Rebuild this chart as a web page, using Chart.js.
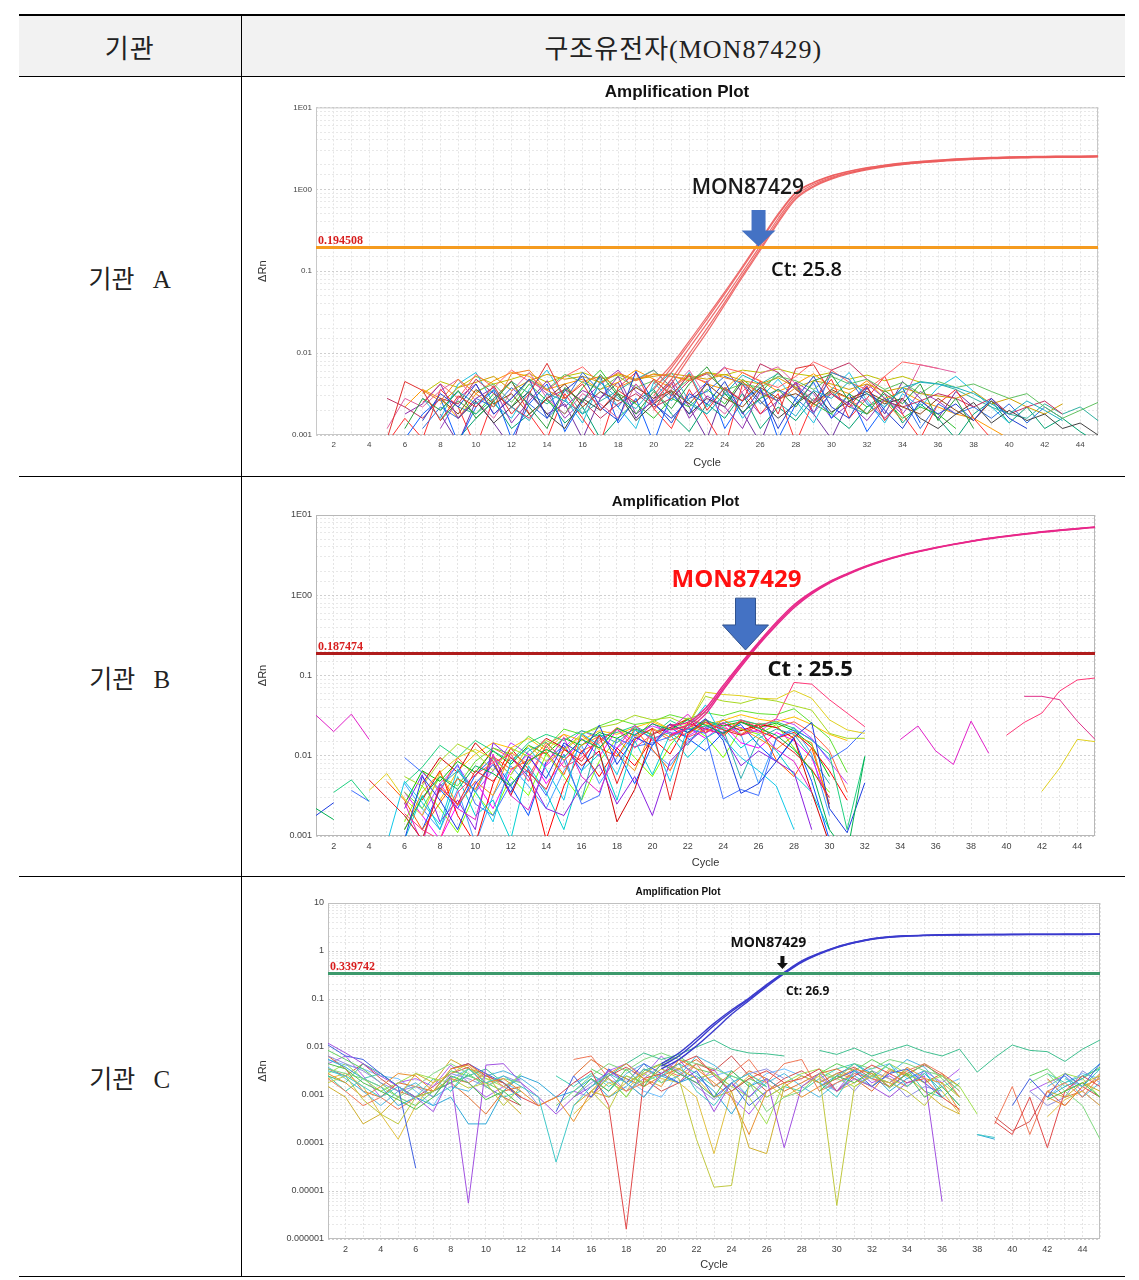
<!DOCTYPE html>
<html>
<head>
<meta charset="utf-8">
<script src="https://cdn.jsdelivr.net/npm/chart.js@4.4.1/dist/chart.umd.min.js"></script>
<style>
  body { margin: 0; background: #fff; }
  .page { position: relative; width: 1139px; height: 1280px; }
  table { position: absolute; left: 19px; top: 14px; width: 1106px; border-collapse: collapse; table-layout: fixed; }
  th, td { padding: 0; border-top: 1px solid #000; border-bottom: 1px solid #000; }
  tr.head th { border-top: 2px solid #000; height: 60px; background: #f2f2f2; font-weight: normal;
    font-family: "Liberation Serif", "Noto Sans CJK KR", serif; font-size: 26px; letter-spacing: 1px; color: #222; }
  th.lab, td.lab { border-right: 1px solid #000; }
  td.lab { text-align: center; font-family: "Liberation Serif", "Noto Sans CJK KR", serif; font-size: 25px; word-spacing: 12px; color: #222; }
  td.fig { height: 399px; }
  .box { position: relative; width: 883px; height: 399px; }
</style>
</head>
<body>
<div class="page">
<table>
  <colgroup><col style="width:222px"><col></colgroup>
  <tr class="head"><th class="lab">기관</th><th>구조유전자(MON87429)</th></tr>
  <tr><td class="lab">기관 A</td><td class="fig"><div class="box"><canvas id="chartA" width="883" height="399"></canvas></div></td></tr>
  <tr><td class="lab">기관 B</td><td class="fig"><div class="box"><canvas id="chartB" width="883" height="399"></canvas></div></td></tr>
  <tr><td class="lab">기관 C</td><td class="fig"><div class="box"><canvas id="chartC" width="883" height="399"></canvas></div></td></tr>
</table>
</div>
<script>
const _ = null;

// ---- shared axes ----
const cycles = [1,2,3,4,5,6,7,8,9,10,11,12,13,14,15,16,17,18,19,20,21,22,23,24,25,26,27,28,29,30,31,32,33,34,35,36,37,38,39,40,41,42,43,44,45];
const xTickValues = [2,4,6,8,10,12,14,16,18,20,22,24,26,28,30,32,34,36,38,40,42,44];

// ---- 기관 A ----
const yTicksA = [10, 1, 0.1, 0.01, 0.001];
const yLabelsA = ['1E01', '1E00', '0.1', '0.01', '0.001'];
const thresholdA = 0.194508;
const ctA = 25.8;

const ampA1 = [_,_,_,_,_, _,_,_,_,_, _,_,_,_,_, _,_,_,_,0.0030, 0.0058,0.0115,0.023,0.047,0.098, 0.205,0.44,0.84,1.15,1.4, 1.6,1.78,1.92,2.04,2.14, 2.22,2.3,2.36,2.4,2.44, 2.46,2.48,2.5,2.51,2.52];
const ampA2 = [_,_,_,_,_, _,_,_,_,_, _,_,_,_,_, _,_,_,_,0.0024, 0.0048,0.0098,0.02,0.042,0.09, 0.19,0.41,0.79,1.1,1.36, 1.58,1.76,1.9,2.02,2.12, 2.2,2.28,2.34,2.38,2.42, 2.44,2.46,2.47,2.48,2.5];
const ampA3 = [_,_,_,_,_, _,_,_,_,_, _,_,_,_,_, _,_,_,_,0.0036, 0.0066,0.013,0.026,0.053,0.11, 0.23,0.48,0.9,1.2,1.45, 1.65,1.82,1.96,2.08,2.18, 2.26,2.33,2.39,2.43,2.47, 2.49,2.51,2.52,2.53,2.55];
const ampA4 = [_,_,_,_,_, _,_,_,_,_, _,_,_,_,_, _,_,_,_,0.0020, 0.0042,0.0088,0.018,0.039,0.085, 0.18,0.39,0.76,1.07,1.33, 1.55,1.73,1.88,2.0,2.1, 2.18,2.26,2.32,2.36,2.4, 2.42,2.44,2.45,2.46,2.48];
const ampA5 = [_,_,_,_,_, _,_,_,_,_, _,_,_,_,_, _,_,_,_,0.0042, 0.0072,0.014,0.028,0.056,0.115, 0.24,0.5,0.92,1.22,1.47, 1.67,1.84,1.98,2.1,2.2, 2.28,2.35,2.41,2.45,2.49, 2.51,2.53,2.54,2.55,2.56];

const noiseA1 = [_,_,_,_,0.0009, 0.0045,0.0035,0.0015,0.003,0.0022, 0.004,0.0018,0.0032,0.0075,0.0028, 0.0042,0.002,0.0035,0.0025,0.0048, 0.003,0.0055,0.002,0.0038,0.0026, 0.0045,0.0018,0.0065,0.0072,0.0032, 0.0022,0.004,0.0015,0.0028,_, _,_,_,_,_, _,_,_,_,_];
const noiseA2 = [_,_,_,_,_, 0.0012,0.0028,0.002,0.0035,0.0016, 0.0026,0.0045,0.0022,0.0012,0.0038, 0.0025,0.0055,0.003,0.0018,0.0034, 0.0021,0.0042,0.0068,0.0032,0.0019, 0.0028,0.0036,0.0022,0.0046,0.0055, 0.0026,0.0018,0.0035,0.0024,0.0042, 0.0015,0.0028,0.0012,_,_, _,_,_,_,_];
const noiseA3 = [_,_,_,_,_, _,0.0015,0.0032,0.0022,0.0042, 0.0018,0.0028,0.0048,0.0016,0.0035, 0.0052,0.0022,0.0015,0.006,0.0025, 0.0014,0.0032,0.0024,0.0045,0.0018, 0.0036,0.0012,0.0028,0.0052,0.0022, 0.0016,0.0038,0.002,0.0012,0.0026, 0.0018,0.0024,0.0015,0.0028,0.0016, 0.0012,_,_,_,_];
const noiseA4 = [_,_,_,_,_, _,_,0.002,0.0034,0.0024, 0.0036,0.0022,0.0015,0.0032,0.0026, 0.0018,0.0044,0.0028,0.0021,0.0038, 0.0058,0.0026,0.0018,0.0032,0.0054, 0.0042,0.0025,0.0017,0.0035,0.0028, 0.0045,0.0032,0.0022,0.0038,0.0044, 0.0042,0.0038,0.0032,0.0024,0.0018, 0.0026,0.002,0.0015,_,_];
const noiseA5 = [_,_,_,_,_, 0.0018,0.0024,0.0042,0.0016,0.0028, 0.0038,0.0014,0.0026,0.0046,0.0022, 0.0035,0.0028,0.0052,0.0018,0.0026, 0.0044,0.0016,0.003,0.0022,0.0012, 0.0034,0.0026,0.0044,0.0019,0.0032, 0.0024,0.0015,0.0028,0.002,_, _,_,_,_,_, _,_,_,_,_];
const noiseA6 = [_,_,_,_,_, _,0.0035,0.0026,0.0048,0.0032, 0.0022,0.0056,0.0062,0.0035,0.0028, 0.0045,0.0052,0.0038,0.0048,0.0055, 0.0052,0.0046,0.0058,0.005,0.0044, 0.0032,0.0026,0.0038,0.0022,0.0034, 0.0028,0.0018,0.0026,0.0015,_, _,_,_,_,_, _,_,_,_,_];
const noiseA7 = [_,_,_,_,_, _,_,0.0028,0.0018,0.0036, 0.0024,0.0032,0.0018,0.0028,0.0042, 0.0022,0.0034,0.0026,0.0038,0.0028, 0.0035,0.0024,0.0042,0.0028,0.0022, 0.0038,0.0028,0.0032,0.0024,0.0036, 0.0028,0.0034,0.0026,0.0022,0.0018, 0.0028,0.002,0.0015,0.0026,0.0018, _,_,_,_,_];
const noiseA8 = [_,_,_,_,0.0012, 0.0028,0.0022,0.0035,0.0048,0.0026, 0.0016,0.0034,0.0058,0.0028,0.0018, 0.0032,0.0024,0.0016,0.0042,0.0026, 0.0036,0.0062,0.0028,0.0018,0.0034, 0.0056,0.0068,0.0042,0.0026,0.0032, 0.0022,0.0028,0.0016,0.0026,0.0072, 0.0065,0.0058,_,_,_, _,_,_,_,_];
const noiseA9 = [_,_,_,_,_, _,_,_,0.0016,0.0026, 0.0014,0.0022,0.0034,0.0018,0.0012, 0.0028,0.002,0.0032,0.0015,0.0024, 0.0034,0.0018,0.0028,0.0022,0.0045, 0.0026,0.0016,0.0024,0.0034,0.0019, 0.0026,0.0032,0.0024,0.0028,0.0016, 0.0012,0.0018,0.0025,0.0014,0.002, 0.0015,0.0018,0.0012,0.0014,0.001];
const noiseA10 = [_,_,_,_,_, _,_,_,_,0.0034, 0.0042,0.0025,0.0048,0.0036,0.0055, 0.0044,0.0036,0.0052,0.0038,0.0046, 0.0032,0.0048,0.0058,0.0035,0.0042, 0.0038,0.0052,0.0046,0.0036,0.0052, 0.0042,0.0048,0.0036,0.0044,0.0032, 0.0045,0.0038,0.0042,0.0034,0.0028, 0.0032,0.0022,0.0016,0.002,0.0025];
const noiseA11 = [_,_,_,_,0.0028, 0.0022,0.0016,0.0028,0.0024,0.0048, 0.0032,0.0022,0.0016,0.0028,0.0036, 0.0026,0.0016,0.0024,0.0032,0.0022, 0.0028,0.0046,0.0056,0.0036,0.0026, 0.0074,0.0058,0.0036,0.0024,0.0062, 0.0076,0.0048,0.0032,0.0022,0.0026, 0.0032,0.0028,0.0022,0.0028,0.0018, 0.0022,0.0026,0.0018,_,_];
const noiseA12 = [_,_,_,_,_, _,0.0012,0.0022,0.0016,0.0028, 0.0022,0.0038,0.0024,0.0016,0.0026, 0.0058,0.0034,0.0022,0.0042,0.0024, 0.0016,0.0028,0.0034,0.0052,0.0042, 0.0024,0.0036,0.0028,0.0018,0.0058, 0.0048,0.0024,0.0016,0.0028,0.0012, 0.0024,0.0018,0.0022,0.0016,0.0024, 0.0014,0.0022,0.0016,_,_];
const noiseA13 = [_,_,_,_,_, _,_,0.0024,0.0038,0.0044, 0.0052,0.0035,0.0046,0.0055,0.0048, 0.0052,0.0044,0.0056,0.0048,0.0052, 0.0056,0.0052,0.0048,0.0055,0.0046, 0.0042,0.005,0.0038,0.0046,0.0042, 0.0036,0.0042,0.0034,0.0038,0.0032, 0.003,0.0028,0.0034,0.0024,0.0028, 0.0022,0.0018,0.0024,_,_];
const noiseA14 = [_,_,_,_,_, _,_,_,0.0022,0.0018, 0.0028,0.0045,0.0032,0.0024,0.0036, 0.0018,0.0026,0.0035,0.0048,0.0062, 0.0038,0.0024,0.0018,0.0032,0.0026, 0.0042,0.0056,0.0038,0.0026,0.0034, 0.0022,0.0018,0.0026,0.0034,0.0045, 0.0042,0.0036,0.0028,0.0022,0.0018, 0.0016,0.0024,0.0018,0.0022,0.0015];
const noiseA15 = [_,_,_,_,_, _,0.0025,0.0042,0.0028,0.0055, 0.0038,0.0062,0.0045,0.0035,0.0052, 0.0068,0.0042,0.0058,0.0046,0.0062, 0.0038,0.0052,0.0044,0.0066,0.0058, 0.0045,0.0038,0.0052,0.0078,0.0062, 0.0044,0.0036,0.0052,0.0078,0.0072, 0.0065,_,_,_,_, _,_,_,_,_];
const noiseA16 = [_,_,_,_,_, _,_,0.0015,0.0026,0.0018, 0.0032,0.0022,0.0042,0.0026,0.0018, 0.0038,0.0062,0.0032,0.0024,0.0016, 0.0028,0.0022,0.0036,0.0024,0.0048, 0.0032,0.0058,0.0036,0.0024,0.0018, 0.0032,0.0022,0.0028,0.0016,0.0022, 0.0018,0.0012,_,_,_, _,_,_,_,_];
const noiseA17 = [_,_,_,_,_, 0.0009,0.0018,0.0028,0.0008,0.0022, 0.0035,0.0009,0.0024,0.0042,0.0011, 0.0026,0.0052,0.0014,0.0028,0.0008, 0.0032,0.0018,0.0046,0.0012,0.0026, 0.0038,0.0009,0.0024,0.0044,0.0016, 0.0032,0.0011,0.0022,0.0038,0.0014, _,_,_,_,_, _,_,_,_,_];
const noiseA18 = [_,_,_,_,0.0008, 0.0016,0.0009,0.0036,0.0022,0.0007, 0.0028,0.0046,0.0018,0.0009,0.0032, 0.0016,0.0008,0.0038,0.0058,0.0021, 0.0012,0.0036,0.0016,0.0007,0.0042, 0.0018,0.0032,0.0008,0.0026,0.0048, 0.0016,0.0028,0.0052,0.0018,0.0009, 0.0024,0.0036,0.0016,0.0009,_, _,_,_,_,_];
const noiseA19 = [_,_,_,_,_, _,0.0028,0.0016,0.0042,0.0058, 0.0024,0.0016,0.0036,0.0062,0.0028, 0.0014,0.0046,0.0022,0.0012,0.0044, 0.0026,0.0058,0.0022,0.0038,0.0016, 0.0028,0.0048,0.0026,0.0014,0.0036, 0.0058,0.0026,0.0014,0.0032,0.0022, 0.0038,0.0052,0.0034,0.0022,0.0014, _,_,_,_,_];
const noiseA20 = [_,_,_,_,_, _,_,0.0012,0.0028,0.0042, 0.0018,0.0028,0.0048,0.0032,0.0016, 0.0026,0.0042,0.0062,0.0034,0.0024, 0.0016,0.0028,0.0044,0.0068,0.0032, 0.0018,0.0026,0.0044,0.0032,0.0016, 0.0024,0.0042,0.0028,0.0018,0.0034, 0.0026,0.0018,_,_,_, _,_,_,_,_];
const noiseA21 = [_,_,_,_,_, 0.0022,0.0036,0.0028,0.0016,0.0032, 0.0046,0.0058,0.0052,0.0036,0.0042, 0.0048,0.0036,0.0044,0.0062,0.0048, 0.0038,0.0056,0.0042,0.0036,0.0058, 0.0046,0.0034,0.0042,0.0056,0.0038, 0.0032,0.0046,0.0028,0.0034,0.0026, 0.0022,0.0018,0.0016,0.0012,0.0009, _,_,_,_,_];
const noiseA22 = [_,_,_,_,_, _,_,_,0.0009,0.0016, 0.0026,0.0012,0.0018,0.0028,0.0014, 0.0022,0.0009,0.0016,0.0026,0.0036, 0.0018,0.0011,0.0024,0.0016,0.0032, 0.0012,0.0022,0.0015,0.0028,0.0018, 0.0012,0.0022,0.0032,0.0014,0.0024, 0.0016,0.0009,0.0018,0.0026,0.0014, 0.0022,0.0012,0.0016,0.0011,0.0008];
const noiseA23 = [_,_,_,_,_, _,0.0032,0.0045,0.0038,0.0052, 0.0042,0.0048,0.0056,0.0044,0.0052, 0.0058,0.0048,0.0054,0.0046,0.0056, 0.0052,0.0048,0.0058,0.0054,0.0062, 0.0058,0.0064,0.0056,0.0052,0.0058, 0.0048,0.0054,0.0046,0.0052,0.0044, _,_,_,_,_, _,_,_,_,_];
const noiseA24 = [_,_,_,_,_, _,_,0.0018,0.0008,0.0026, 0.0014,0.0007,0.0032,0.0018,0.0024, 0.0009,0.0028,0.0044,0.0016,0.0028, 0.0048,0.0022,0.0009,0.0036,0.0019, 0.0008,0.0028,0.0042,0.0018,0.0009, 0.0026,0.0038,0.0018,0.0045,0.0028, 0.0016,0.0034,0.0022,_,_, _,_,_,_,_];

// ---- 기관 B ----
const yTicksB = [10, 1, 0.1, 0.01, 0.001];
const yLabelsB = ['1E01', '1E00', '0.1', '0.01', '0.001'];
const thresholdB = 0.187474;
const ctB = 25.5;

const ampB1 = [_,_,_,_,_, _,_,_,_,_, _,_,_,_,_, _,_,_,_,_, 0.021,0.024,0.036,0.07,0.135, 0.25,0.44,0.73,1.07,1.45, 1.83,2.25,2.68,3.1,3.5, 3.9,4.3,4.7,5.1,5.45, 5.8,6.15,6.45,6.75,7.05];
const ampB2 = [_,_,_,_,_, _,_,_,_,_, _,_,_,_,_, _,_,_,_,_, 0.018,0.022,0.033,0.066,0.128, 0.24,0.42,0.7,1.04,1.42, 1.8,2.22,2.65,3.07,3.47, 3.87,4.27,4.67,5.05,5.4, 5.75,6.1,6.4,6.7,7.0];
const ampB3 = [_,_,_,_,_, _,_,_,_,_, _,_,_,_,_, _,_,_,_,_, 0.024,0.026,0.039,0.075,0.142, 0.26,0.46,0.76,1.1,1.48, 1.86,2.28,2.71,3.13,3.53, 3.93,4.33,4.73,5.13,5.5, 5.85,6.2,6.5,6.8,7.1];

const noiseB1 = [0.0022,0.0016,_,_,_, 0.0012,0.003,0.0055,0.0038,0.0075, 0.006,0.0042,0.0085,0.012,0.0095, 0.016,0.0125,0.022,0.018,0.025, 0.021,0.028,0.024,0.019,0.026, 0.022,0.018,0.012,0.0065,0.0012, 0.0006,0.0098,_,_,_, _,_,_,_,_, _,_,_,_,_];
const noiseB2 = [_,_,_,0.005,0.003, 0.0018,0.0009,0.004,0.0025,0.0065, 0.0048,0.0095,0.0062,0.0038,0.012, 0.0085,0.018,0.0045,0.016,0.022, 0.0028,0.019,0.026,0.021,0.018, 0.024,0.016,0.011,0.0068,0.003, _,_,_,_,_, _,_,_,_,_, _,_,_,_,_];
const noiseB3 = [0.0018,0.0026,_,_,_, 0.0009,0.0055,0.0028,0.0012,0.0045, 0.0078,0.0035,0.0098,0.0052,0.0145, 0.0105,0.024,0.0078,0.017,0.0135, 0.025,0.0195,0.029,0.0155,0.0034, 0.0045,0.0085,0.017,0.026,0.0022, 0.0011,0.0046,_,_,_, _,_,_,_,_, _,_,_,_,_];
const noiseB4 = [_,_,_,_,0.0008, 0.0048,0.0026,0.0014,0.0068,0.0036, 0.0015,0.0085,0.0125,0.0068,0.0028, 0.019,0.0135,0.0058,0.021,0.017, 0.0048,0.0225,0.043,0.0165,0.0095, 0.0065,0.0042,0.0012,_,_, _,_,_,_,_, _,_,_,_,_, _,_,_,_,_];
const noiseB5 = [0.032,0.02,0.033,0.016,_, 0.0026,0.0008,0.0045,0.0022,0.0016, 0.0105,0.0032,0.0021,0.0078,0.017, 0.0055,0.0035,0.0125,0.024,0.0155, 0.0215,0.033,0.019,0.026,0.018, 0.021,0.012,0.0085,0.0035,_, _,_,_,0.0159,0.0235, 0.0115,0.0078,0.027,0.0107,_, _,_,_,_,_];
const noiseB6 = [_,_,_,_,_, 0.0012,0.0035,0.0062,0.0024,0.0048, 0.0032,0.011,0.0078,0.0145,0.0088, 0.0135,0.0175,0.0105,0.0065,0.022, 0.017,0.0245,0.0195,0.028,0.022, 0.0165,0.012,0.018,0.0145,0.0022, _,_,_,_,_, _,_,_,_,_, _,_,_,_,_];
const noiseB7 = [_,_,_,_,_, 0.0055,0.0042,0.0085,0.014,0.011, 0.0065,0.0125,0.0098,0.0155,0.012, 0.0185,0.0225,0.025,0.032,0.028, 0.03,0.024,0.055,0.048,0.045, 0.052,0.048,0.042,0.037,0.019, 0.0165,0.0165,_,_,_, _,_,_,_,_, _,_,_,_,_];
const noiseB8 = [_,_,_,0.0037,0.006, 0.0029,0.0018,0.0062,0.0095,0.012, 0.0092,0.0058,0.0135,0.0085,0.0115, 0.0178,0.0118,0.0225,0.0155,0.028, 0.0215,0.024,0.062,0.058,0.056, 0.052,0.051,0.065,0.052,0.028, 0.021,0.019,_,_,_, _,_,_,_,_, _,0.0036,0.007,0.016,0.015];
const noiseB9 = [_,_,_,_,_, 0.0019,0.0012,0.0009,0.0035,0.0058, 0.0082,0.0105,0.0048,0.0135,0.0072, 0.0095,0.0155,0.0215,0.0125,0.0185, 0.0245,0.017,0.021,0.019,0.028, 0.0225,0.029,0.082,0.078,0.05, 0.034,0.023,_,_,_, _,_,_,_,0.018, 0.026,0.034,0.064,0.088,0.093];
const noiseB10 = [_,_,0.0037,0.0027,_, 0.0095,0.0062,0.0038,0.0078,0.0025, 0.0018,0.0045,0.0068,0.0032,0.0105, 0.0025,0.0032,0.0165,0.013,0.0145, 0.0172,0.0215,0.019,0.0029,0.0038, 0.0032,0.0165,0.021,0.016,0.009, 0.0125,0.021,_,_,_, _,_,_,_,_, _,_,_,_,_];
const noiseB11 = [_,0.0035,0.005,0.0027,_, 0.0045,0.0072,0.0135,0.0095,0.0155, 0.0115,0.0085,0.0145,0.0185,0.0155, 0.0205,0.0175,0.0195,0.0235,0.018, 0.0275,0.0215,0.0235,0.0255,0.028, 0.0245,0.0265,0.022,0.0155,0.0105, 0.0012,0.0098,_,_,_, _,_,_,_,_, _,_,_,_,_];
const noiseB12 = [_,_,_,_,_, 0.0022,0.0058,0.0015,0.0028,0.0012, 0.0145,0.0095,0.0055,0.0022,0.0018, 0.0042,0.0078,0.0025,0.0055,0.0018, 0.0085,0.0145,0.0225,0.0178,0.0075, 0.0115,0.0085,0.0062,0.0012,_, _,_,_,_,_, _,_,_,_,_, _,_,_,_,_];
const noiseB13 = [_,_,_,_,0.0048, 0.0028,0.0012,0.0026,0.0052,0.0038, 0.0098,0.0068,0.0088,0.0112,0.0058, 0.0185,0.0125,0.0098,0.0215,0.012, 0.0065,0.018,0.0285,0.0175,0.0275, 0.0245,0.0088,0.0055,0.0125,0.0025, _,_,_,_,_, _,_,_,_,_, _,_,_,_,_];
const noiseB14 = [_,_,_,_,_, 0.0018,0.0009,0.0042,0.0065,0.0035, 0.0095,0.0058,0.0115,0.0148,0.0088, 0.0028,0.0185,0.0145,0.0225,0.0165, 0.0195,0.0135,0.0285,0.0215,0.0052, 0.0165,0.0215,0.0185,0.0095,0.0045, _,_,_,_,_, _,_,_,_,_, _,_,_,_,_];
const noiseB15 = [_,_,_,_,_, 0.0035,0.0022,0.0055,0.0042,0.0085, 0.0125,0.0105,0.0175,0.0125,0.0215, 0.0185,0.0235,0.0285,0.0245,0.0265, 0.0325,0.0285,0.0345,0.0315,0.0365, 0.0335,0.0325,0.0385,0.0255,0.0165, 0.0062,_,_,_,_, _,_,_,_,_, _,_,_,_,_];
const noiseB16 = [_,_,_,_,_, _,0.0045,0.0095,0.0062,0.0145, 0.0085,0.0032,0.0098,0.0165,0.0125, 0.0075,0.0115,0.0015,0.0038,0.0185, 0.0225,0.0285,0.0195,0.0255,0.0205, 0.0245,0.0225,0.0165,0.0035,0.0008, _,_,_,_,_, _,_,_,_,_, _,_,_,_,_];
const noiseB17 = [_,_,_,_,_, _,_,_,_,_, _,_,_,_,_, _,_,_,_,_, _,_,_,_,_, _,_,_,_,_, _,_,_,_,_, _,_,_,_,_, 0.055,0.055,0.05,0.027,0.016];
const noiseB18 = [_,_,_,_,_, 0.0009,0.0032,0.0012,0.0055,0.0018, 0.0028,0.0009,0.0075,0.0035,0.0012, 0.0065,0.0105,0.0028,0.0155,0.0058, 0.0185,0.0095,0.0165,0.0225,0.0125, 0.0185,0.0115,0.0058,0.0035,0.0012, _,_,_,_,_, _,_,_,_,_, _,_,_,_,_];
const noiseB19 = [_,_,_,_,_, _,0.0028,0.0065,0.0018,0.0008, 0.0045,0.0125,0.0068,0.0009,0.0042, 0.0115,0.0055,0.0125,0.0075,0.0165, 0.0105,0.0255,0.0215,0.0185,0.0265, 0.0205,0.0165,0.0195,0.0125,0.0065, 0.0028,_,_,_,_, _,_,_,_,_, _,_,_,_,_];
const noiseB20 = [_,_,_,_,_, 0.0025,0.0065,0.0048,0.0085,0.0062, 0.0115,0.0078,0.0135,0.0105,0.0165, 0.0135,0.0195,0.0165,0.0215,0.0185, 0.0245,0.0195,0.0275,0.0235,0.0265, 0.0225,0.0255,0.0205,0.0135,0.0055, _,_,_,_,_, _,_,_,_,_, _,_,_,_,_];
const noiseB21 = [_,_,_,_,_, _,0.0012,0.0038,0.0022,0.0058, 0.0095,0.0042,0.0018,0.0085,0.0135, 0.0065,0.0185,0.0115,0.0045,0.0135, 0.0225,0.0165,0.0115,0.0195,0.0245, 0.0135,0.0085,0.0165,0.0048,0.0009, _,_,_,_,_, _,_,_,_,_, _,_,_,_,_];
const noiseB22 = [_,_,_,_,_, 0.0035,0.0018,0.0009,0.0025,0.0048, 0.0022,0.0065,0.0105,0.0045,0.0085, 0.0165,0.0098,0.0215,0.0145,0.0255, 0.0185,0.0225,0.0165,0.0245,0.0145, 0.0125,0.0195,0.0155,0.0095,0.0025, _,_,_,_,_, _,_,_,_,_, _,_,_,_,_];
const noiseB23 = [_,_,_,_,_, _,_,0.0028,0.0065,0.0105, 0.0145,0.0125,0.0165,0.0115,0.0185, 0.0155,0.0205,0.0185,0.0225,0.0265, 0.0215,0.0295,0.0245,0.0275,0.0325, 0.0285,0.0265,0.0305,0.0245,0.0185, 0.0155,_,_,_,_, _,_,_,_,_, _,_,_,_,_];
const noiseB24 = [_,_,_,_,_, 0.0015,0.0042,0.0022,0.0011,0.0035, 0.0018,0.0055,0.0032,0.0105,0.0055, 0.0028,0.0085,0.0165,0.0095,0.0055, 0.0135,0.0245,0.0175,0.0095,0.0215, 0.0185,0.0245,0.0125,0.0065,0.0035, _,_,_,_,_, _,_,_,_,_, _,_,_,_,_];
const noiseB25 = [_,_,_,_,_, _,0.0065,0.0035,0.0095,0.0055, 0.0125,0.0095,0.0055,0.0135,0.0185, 0.0115,0.0145,0.0225,0.0175,0.0215, 0.0155,0.0195,0.0265,0.0225,0.0185, 0.0255,0.0225,0.0265,0.0195,0.0115, 0.0035,_,_,_,_, _,_,_,_,_, _,_,_,_,_];
const noiseB26 = [_,_,_,_,_, 0.0045,0.0022,0.0012,0.0038,0.0008, 0.0032,0.0075,0.0042,0.0022,0.0065, 0.0135,0.0045,0.0095,0.0185,0.0115, 0.0075,0.0155,0.0215,0.0285,0.0185, 0.0045,0.0165,0.0225,0.0105,0.0018, _,_,_,_,_, _,_,_,_,_, _,_,_,_,_];
const noiseB27 = [_,_,_,_,_, _,0.0018,0.0045,0.0075,0.0035, 0.0065,0.0145,0.0105,0.0075,0.0125, 0.0205,0.0165,0.0125,0.0185,0.0235, 0.0195,0.0175,0.0235,0.0195,0.0225, 0.0195,0.0285,0.0245,0.0165,0.0085, 0.0045,_,_,_,_, _,_,_,_,_, _,_,_,_,_];

// ---- 기관 C ----
const yTicksC = [10, 1, 0.1, 0.01, 0.001, 0.0001, 0.00001, 0.000001];
const yLabelsC = ['10', '1', '0.1', '0.01', '0.001', '0.0001', '0.00001', '0.000001'];
const thresholdC = 0.339742;
const ctC = 26.9;

const ampC1 = [_,_,_,_,_, _,_,_,_,_, _,_,_,_,_, _,_,_,_,0.004, 0.0065,0.013,0.028,0.055,0.1, 0.19,0.35,0.6,0.88,1.2, 1.5,1.78,1.96,2.06,2.12, 2.16,2.18,2.19,2.2,2.21, 2.22,2.22,2.23,2.23,2.24];
const ampC2 = [_,_,_,_,_, _,_,_,_,_, _,_,_,_,_, _,_,_,_,0.0035, 0.0055,0.0105,0.022,0.048,0.093, 0.18,0.335,0.58,0.86,1.18, 1.48,1.76,1.94,2.04,2.1, 2.14,2.16,2.17,2.18,2.19, 2.2,2.2,2.21,2.21,2.22];
const ampC3 = [_,_,_,_,_, _,_,_,_,_, _,_,_,_,_, _,_,_,_,0.0045, 0.0075,0.015,0.031,0.059,0.105, 0.2,0.36,0.62,0.9,1.22, 1.52,1.8,1.98,2.08,2.14, 2.18,2.2,2.21,2.22,2.23, 2.24,2.24,2.25,2.25,2.26];

const noiseC1 = [0.0045,0.0035,0.0018,0.0012,0.0008, 0.0005,0.0009,0.0025,0.0018,0.0008, 0.0012,0.0006,_,_,0.0009, 0.0022,0.0012,0.0035,0.0015,0.0045, 0.0028,0.0018,0.0009,0.0032,0.0015, _,_,_,0.0012,0.0025, 0.0018,0.0032,0.0014,0.0028,0.0009, 0.0015,0.0006,_,_,_, _,0.0008,0.0012,0.0018,0.0009];
const noiseC2 = [0.0032,0.0025,0.0015,0.0009,0.0015, 0.0008,_,0.0012,0.0035,0.0018, 0.0025,0.0015,0.0009,0.00004,0.0006, 0.0015,0.0028,0.0018,0.0009,0.0025, 0.0045,0.0012,0.0006,0.0018,0.0028, 0.0015,_,_,0.0018,0.0009, 0.0032,0.0022,0.0045,0.0015,0.0028, 0.0012,_,0.00015,0.00013,_, _,_,0.0022,0.0015,0.0035];
const noiseC3 = [0.0018,0.0025,0.0008,0.0004,0.00025, 0.0009,0.0012,0.0022,0.0014,0.0018, 0.0006,0.0015,_,_,_, 0.0012,0.0005,0.0025,0.0018,0.0035, 0.0022,0.00012,0.000012,0.000013,0.0018, 0.0009,0.0015,_,0.0028,0.000005, 0.0015,0.0025,0.0018,0.0012,0.0006, 0.0018,0.0009,_,_,_, _,_,0.0012,0.0018,0.0025];
const noiseC4 = [0.0028,0.0018,0.0009,0.0015,0.0028, 0.0025,0.0012,0.0035,0.0042,0.0018, 0.0022,0.0012,0.0006,0.0009,0.00028, 0.0012,0.0028,0.0045,0.0022,0.0015, 0.0055,0.0035,0.0018,0.0009,0.00015, 0.0012,0.0018,0.0009,0.0015,0.0022, 0.0035,0.0028,0.0015,0.0038,0.0022, 0.0018,0.00045,_,_,_, _,0.0009,0.0006,0.0015,0.0022];
const noiseC5 = [0.012,0.0075,0.0045,0.0025,0.0015, 0.0009,0.00045,0.0025,0.0000056,0.0042, 0.0045,0.0018,0.0009,0.0004,0.0009, 0.0015,0.0032,0.0018,0.0009,0.0028, 0.0055,0.0022,0.00045,0.0018,0.0009, 0.0022,0.00008,0.0015,0.0028,0.0012, 0.0022,0.0015,0.0009,0.0018,0.0025, 0.000006,_,_,_,_, _,_,_,_,_];
const noiseC6 = [_,_,_,_,_, _,_,0.0035,0.0045,0.0025, 0.0018,0.0009,0.0006,0.0009,0.0018, 0.0032,0.0006,0.0000016,0.0022,0.0028, 0.0045,0.0065,0.0025,0.0012,0.0022, 0.0032,0.0018,0.0022,0.0035,0.0012, 0.0025,0.0042,0.0028,0.0018,0.0022, 0.0009,0.0005,_,0.00028,0.00015, 0.0009,0.00008,0.0012,0.0025,0.0015];
const noiseC7 = [0.011,0.0065,0.0055,0.0028,0.0015, 0.00003,_,0.0035,0.0045,0.0028, 0.0018,0.0008,_,0.00045,0.0025, 0.0009,0.0035,0.0018,0.0045,0.0028, 0.0018,0.0032,0.0009,0.0018,0.0006, 0.0012,_,_,0.0015,0.0022, 0.0032,0.0015,0.0028,0.0035,0.0018, 0.0009,_,_,_,0.0006, 0.0022,0.0009,0.0028,0.0015,0.0045];
const noiseC8 = [0.0035,0.0028,0.0022,0.0015,0.0009, 0.0015,0.0028,0.0045,0.0028,0.0015, 0.0022,0.0018,_,0.0006,0.0012, 0.0025,0.0045,0.0032,0.0055,0.0075, 0.0055,0.0045,0.0035,0.0025,0.0018, 0.00045,0.0009,0.0012,0.0028,0.0022, 0.0045,0.0035,0.0055,0.0045,0.0032, 0.0025,0.0012,_,_,_, 0.0018,0.0028,0.0012,0.0006,0.00012];
const noiseC9 = [0.0025,0.0018,0.0045,0.0028,0.0015, 0.0009,0.0012,0.0018,0.0025,0.0035, 0.0018,0.0009,_,_,_, 0.0015,0.0025,0.0045,0.0075,0.0055, 0.007,0.01,0.014,0.009,0.0075, 0.0072,0.0065,_,0.0085,0.007, 0.0095,0.0065,0.0085,0.011,0.008, 0.0065,0.009,0.003,0.006,0.011, 0.0085,0.008,0.005,0.009,0.014];
const noiseC10 = [0.0015,0.0009,0.00025,0.0004,0.0009, 0.0028,0.0018,0.0055,0.0035,0.0028, 0.0009,0.0004,_,_,0.0006, 0.0012,0.0009,0.0018,0.0028,0.0045, 0.0035,0.0022,0.0009,0.0012,0.00008, 0.00006,0.0015,0.0025,0.0018,0.0028, 0.0022,0.0015,0.0035,0.0025,0.0012, 0.0006,0.0004,_,_,_, _,0.0012,0.0009,0.0018,0.0012];
const noiseC11 = [0.0022,0.0012,0.0006,0.0009,0.0005, 0.0009,0.0012,0.0022,0.0018,0.0028, 0.0015,0.0009,_,_,0.0055, 0.0065,0.0022,0.0012,0.0018,0.0035, 0.0025,0.0045,0.0015,0.0028,0.0055, 0.0018,0.0045,0.0055,0.0012,0.0018, 0.0028,0.0022,0.0018,0.0032,0.0045, 0.0028,0.0009,_,0.00025,0.0015, 0.00015,0.0012,0.0018,0.0009,0.0025];
const noiseC12 = [0.0065,0.0045,0.0032,0.0018,0.0012, 0.0015,0.0009,0.0028,0.0022,0.0015, 0.0025,0.0018,0.0006,_,0.0009, 0.0018,0.0028,0.0012,0.0022,0.0042, 0.0032,0.0015,0.0008,0.0018,0.0028, 0.0035,0.0022,_,0.0018,0.0028, 0.0012,0.0032,0.0022,0.0009,0.0015, 0.0012,_,_,_,_, 0.0012,0.0006,0.0009,0.0032,0.0018];
const noiseC13 = [0.0055,0.0038,0.0022,0.0015,0.0006, 0.0009,0.0006,0.0009,0.00025,0.00025, 0.0012,0.0025,0.0018,0.0009,0.0012, 0.0022,0.0009,0.0015,0.0035,0.0025, 0.0018,0.0025,0.0012,0.0004,0.0015, 0.0022,0.0012,_,0.0015,0.0025, 0.0045,0.0028,0.0012,0.0022,0.0032, 0.0009,_,0.00015,0.00012,_, _,0.0009,0.0015,0.0022,0.0045];
const noiseC14 = [0.0028,0.0045,0.0022,0.0012,0.0018, 0.0028,0.0022,0.0018,0.0035,0.0022, 0.0015,0.0025,_,_,_, 0.0012,0.0022,0.0009,0.0028,0.0018, 0.0035,0.0022,0.0028,0.0015,0.0009, 0.00025,0.0018,0.0028,0.0035,0.0022, 0.0015,0.0025,0.0045,0.0028,0.0018, 0.0025,0.0015,0.0004,_,_, _,0.0018,0.0028,0.0022,0.0009];
const noiseC15 = [0.0085,0.0055,0.0035,0.0018,0.0009, 0.0006,0.0012,0.0032,0.0025,0.0018, 0.0012,0.0028,_,_,_, 0.0035,0.0022,0.0009,0.0032,0.0045, 0.0065,0.0035,0.0028,0.0012,0.0022, 0.0015,_,_,0.0028,0.0045, 0.0032,0.0055,0.0035,0.0025,0.0045, 0.0022,0.0009,_,_,_, 0.0025,0.0035,0.0015,0.0022,0.0038];
const noiseC16 = [0.0038,0.0022,0.0012,0.0006,0.0012, 0.0018,0.0009,0.0015,0.0012,0.0025, 0.0032,0.0022,0.0012,_,_, 0.0022,0.0012,0.0028,0.0045,0.0018, 0.0025,0.0065,0.0042,0.0022,0.0009, 0.0018,0.0028,0.0015,0.0009,0.0018, 0.0025,0.0015,0.0028,0.0055,0.0038, 0.0015,0.0006,_,_,_, _,0.0015,0.0025,0.0009,0.0018];
const noiseC17 = [0.0022,0.0028,0.0015,0.0004,0.00012, 0.0006,0.0018,0.0028,0.0045,0.0022, 0.0018,0.0009,_,_,0.0004, 0.0009,0.0018,0.0012,0.0035,0.0022, 0.0018,0.0009,0.00006,0.0012,0.0025, 0.0018,0.0009,0.0015,0.0025,0.0012, 0.0018,0.0028,0.0022,0.0015,0.0028, 0.0012,0.0004,_,_,_, _,0.00035,0.0008,0.0012,0.0006];
const noiseC18 = [0.0065,0.0035,0.0012,0.0009,0.0018, 0.0015,0.0012,0.0018,0.0009,0.0004, 0.0012,0.0015,_,_,0.0025, 0.0055,0.0032,0.0022,0.0015,0.0025, 0.0035,0.0055,0.0028,0.0015,0.0032, 0.0022,0.0012,0.0018,0.0028,0.0035, 0.0022,0.0012,0.0032,0.0028,0.0018, 0.0028,0.0015,_,_,_, _,0.0022,0.0009,0.0012,0.0028];
const noiseC19 = [0.0045,0.0065,0.0025,0.0009,0.0018, 0.0022,0.0015,0.0042,0.0018,0.0009, 0.0015,0.0022,_,_,0.0012, 0.0009,0.0032,0.0045,0.0025,0.0065, 0.0028,0.0018,0.0035,0.0009,0.0004, 0.0012,0.0018,_,0.0022,0.0012, 0.0035,0.0018,0.0025,0.0015,0.0032, 0.0018,0.0035,_,_,_, 0.0012,0.0018,0.0025,0.0012,0.0006];
const noiseC20 = [0.0025,0.0012,0.0022,0.0028,0.0015, 0.0009,0.0022,0.0012,0.0028,0.0015, 0.0009,0.0012,_,0.0025,0.0015, 0.0028,0.0015,0.0025,0.0018,0.0028, 0.0045,0.0028,0.0015,0.0025,0.0018, 0.0009,0.0015,0.0012,0.0022,0.0035, 0.0045,0.0025,0.0018,0.0035,0.0012, 0.0009,0.0018,_,_,_, _,0.0028,0.0018,0.0025,0.0035];
const noiseC21 = [0.0035,0.0025,0.0045,0.0022,0.0012, 0.0009,0.0015,0.0028,0.0038,0.0015, 0.0009,0.0006,_,_,_, 0.0009,0.0025,0.0038,0.0022,0.0012, 0.0018,0.0045,0.0032,0.0065,0.0025, 0.0012,0.0022,0.0032,0.0018,0.0028, 0.0038,0.0022,0.0015,0.0028,0.0042, 0.0025,0.0012,_,0.00035,0.00018, 0.00028,0.0012,0.0006,0.0015,0.0009];
const noiseC22 = [0.0055,0.0042,0.0035,0.0025,0.0022, 0.0012,0.0006,0.0022,0.0035,0.0025, 0.0018,0.0012,_,_,0.0018, 0.0025,0.0018,0.0022,0.0012,0.0009, 0.0028,0.0018,0.0025,0.0032,0.0015, 0.0028,0.0035,0.0025,0.0018,0.0012, 0.0028,0.0035,0.0045,0.0022,0.0028, 0.0015,0.0022,_,_,_, _,0.0009,0.0018,0.0028,0.0022];

// ---- colours ----
const paletteA = ['#e0302f','#2a9d3a','#2040d0','#20b0c0','#9030b0','#f08020','#8b4513','#e060a0','#404040','#60c060','#c03060','#3070e0','#d0a000','#30b0a0','#ff6060','#30c030',
                  '#1060ff','#ff3030','#20c0e0','#a040c0','#ff9900','#00a070','#c0c000','#7030a0'];
const paletteB = ['#00b050','#e82020','#1a3ce0','#10c8e8','#e020c8','#f09010','#a8d820','#e0d020','#ff3878','#4070ff','#20d080','#8a20e0','#ff5a00','#30b0b0','#60e030','#d00000','#e0308a',
                  '#00d0d0','#ff0000','#00c000','#0050ff','#ff00ff','#ffc000','#80ff00','#ff6040','#40a0ff','#c040ff'];
const paletteC = ['#50c050','#40c8c8','#c0c840','#e89030','#a050e0','#e04848','#4060e0','#80d880','#40c090','#d0b030','#f07858','#9090e0','#30a8d8','#a0e050',
                  '#60d060','#50b8e0','#e0c040','#e07030','#b060f0','#40d0b0','#d05050','#70c0ff'];

// ---- annotation plugin: frame, threshold label, target label, arrow, Ct ----
const notes = {
  id: 'notes',
  beforeDatasetsDraw(chart, args, o) {
    const { ctx, chartArea: a } = chart;
    ctx.save();
    ctx.strokeStyle = o.frame;
    ctx.lineWidth = 1;
    ctx.strokeRect(a.left + 0.5, a.top + 0.5, a.right - a.left - 1, a.bottom - a.top - 1);
    ctx.restore();
  },
  afterDatasetsDraw(chart, args, o) {
    const { ctx, chartArea: a, scales: { x, y } } = chart;
    ctx.save();
    // threshold value
    ctx.font = o.thrFont;
    ctx.fillStyle = '#d81e1e';
    ctx.textAlign = 'left';
    ctx.textBaseline = 'bottom';
    ctx.fillText(String(o.threshold), a.left + 2, y.getPixelForValue(o.threshold) - 1);
    // target name
    ctx.font = o.nameFont;
    ctx.fillStyle = o.nameColor;
    ctx.textAlign = 'center';
    ctx.textBaseline = 'middle';
    ctx.fillText('MON87429', x.getPixelForValue(o.name[0]), y.getPixelForValue(o.name[1]));
    // arrow
    const ax = x.getPixelForValue(o.arrow[0]);
    const top = y.getPixelForValue(o.arrow[1]);
    const tip = y.getPixelForValue(o.arrow[2]);
    const [sw, hw, hl] = o.arrowSize;
    ctx.beginPath();
    ctx.moveTo(ax - sw / 2, top);
    ctx.lineTo(ax + sw / 2, top);
    ctx.lineTo(ax + sw / 2, tip - hl);
    ctx.lineTo(ax + hw / 2, tip - hl);
    ctx.lineTo(ax, tip);
    ctx.lineTo(ax - hw / 2, tip - hl);
    ctx.lineTo(ax - sw / 2, tip - hl);
    ctx.closePath();
    ctx.fillStyle = o.arrowColor;
    ctx.fill();
    if (o.arrowEdge) { ctx.strokeStyle = o.arrowEdge; ctx.lineWidth = 1; ctx.stroke(); }
    // Ct
    ctx.font = o.ctFont;
    ctx.fillStyle = '#111';
    ctx.textAlign = 'left';
    ctx.fillText(o.ctText, x.getPixelForValue(o.ct[0]), y.getPixelForValue(o.ct[1]));
    ctx.restore();
  }
};

function majorLabel(v, vals, labels) {
  const lv = Math.log10(v);
  for (let j = 0; j < vals.length; j++) {
    if (Math.abs(lv - Math.log10(vals[j])) < 1e-6) return labels[j];
  }
  return '';
}

function series(vals, color, width) {
  return {
    data: vals.map((v, i) => ({ x: cycles[i], y: v })),
    borderColor: color, borderWidth: width, pointRadius: 0, tension: 0, fill: false
  };
}

function makeChart(id, c) {
  const datasets = [];
  datasets.push({
    data: [{ x: 1, y: c.threshold }, { x: 45, y: c.threshold }],
    borderColor: c.thrColor, borderWidth: 3, pointRadius: 0
  });
  c.amp.forEach(a => {
    const d = series(a, c.ampColor, c.ampWidth);
    d.cubicInterpolationMode = 'monotone';
    datasets.push(d);
  });
  c.noise.forEach((n, i) => datasets.push(series(n, c.palette[i % c.palette.length], 1)));

  new Chart(document.getElementById(id), {
    type: 'line',
    data: { datasets },
    plugins: [notes],
    options: {
      responsive: false,
      animation: false,
      devicePixelRatio: 1,
      layout: { padding: { top: 0, left: c.padLeft, right: c.padRight, bottom: 0 } },
      plugins: {
        legend: { display: false },
        tooltip: { enabled: false },
        title: { display: true, text: 'Amplification Plot', color: '#111', font: c.titleFont, padding: c.titlePad },
        notes: c.notes
      },
      scales: {
        x: {
          type: 'linear', min: 1, max: 45,
          afterBuildTicks: s => { s.ticks = cycles.map(v => ({ value: v })); },
          afterFit: s => { s.height = c.xHeight; },
          ticks: { autoSkip: false, maxRotation: 0, color: '#444', font: { size: c.tickSize }, padding: 5,
            callback: v => xTickValues.includes(v) ? String(v) : '' },
          title: { display: true, text: 'Cycle', color: '#333', font: { size: 11 }, padding: { top: 0, bottom: c.cyclePad } },
          grid: { color: '#e4e4e4', drawTicks: false },
          border: { display: false, dash: [2, 2] }
        },
        y: {
          type: 'logarithmic', min: c.yMin, max: 10,
          afterFit: s => { s.width = c.yWidth; },
          ticks: { autoSkip: false, color: '#444', font: { size: c.tickSize }, padding: 4,
            callback: v => majorLabel(v, c.yTicks, c.yLabels) },
          title: { display: true, text: 'ΔRn', color: '#333', font: { size: 11 }, padding: { top: 0, bottom: 4 } },
          grid: { color: ctx => majorLabel(ctx.tick.value, c.yTicks, c.yLabels) ? '#cfcfcf' : '#e8e8e8', drawTicks: false },
          border: { display: false, dash: [2, 2] }
        }
      }
    }
  });
}

Chart.defaults.font.family = '"Liberation Sans", Arial, sans-serif';

makeChart('chartA', {
  threshold: thresholdA, thrColor: '#f59b1f',
  amp: [ampA1, ampA2, ampA3, ampA4, ampA5], ampColor: 'rgba(236,92,92,0.9)', ampWidth: 1.2,
  noise: [noiseA1, noiseA2, noiseA3, noiseA4, noiseA5, noiseA6, noiseA7, noiseA8, noiseA9, noiseA10, noiseA11, noiseA12,
          noiseA13, noiseA14, noiseA15, noiseA16, noiseA17, noiseA18, noiseA19, noiseA20, noiseA21, noiseA22, noiseA23, noiseA24],
  palette: paletteA,
  yMin: 0.001, yTicks: yTicksA, yLabels: yLabelsA,
  padLeft: 14, padRight: 27, yWidth: 60, xHeight: 41, tickSize: 8, cyclePad: 6,
  titleFont: { size: 17, weight: 'bold' }, titlePad: { top: 5, bottom: 5 },
  notes: {
    frame: '#c8c8c8', threshold: thresholdA, thrFont: 'bold 12px "Liberation Serif", serif',
    name: [25.3, 1.03], nameFont: '600 21px "Open Sans", sans-serif', nameColor: '#1a1a1a',
    arrow: [25.9, 0.56, 0.2], arrowSize: [14, 34, 16], arrowColor: '#4472c4', arrowEdge: null,
    ct: [26.6, 0.103], ctText: 'Ct: ' + ctA, ctFont: '600 20px "Open Sans", sans-serif'
  }
});

makeChart('chartB', {
  threshold: thresholdB, thrColor: '#b01c1c',
  amp: [ampB1, ampB2, ampB3], ampColor: '#e8288a', ampWidth: 1.4,
  noise: [noiseB1, noiseB2, noiseB3, noiseB4, noiseB5, noiseB6, noiseB7, noiseB8, noiseB9, noiseB10, noiseB11, noiseB12, noiseB13, noiseB14,
          noiseB15, noiseB16, noiseB17, noiseB18, noiseB19, noiseB20, noiseB21, noiseB22, noiseB23, noiseB24, noiseB25, noiseB26, noiseB27],
  palette: paletteB,
  yMin: 0.001, yTicks: yTicksB, yLabels: yLabelsB,
  padLeft: 14, padRight: 30, yWidth: 60, xHeight: 40, tickSize: 9, cyclePad: 6,
  titleFont: { size: 15, weight: 'bold' }, titlePad: { top: 16, bottom: 4 },
  notes: {
    frame: '#b8b8b8', threshold: thresholdB, thrFont: 'bold 12px "Liberation Serif", serif',
    name: [24.75, 1.55], nameFont: 'bold 24px "Open Sans", sans-serif', nameColor: '#ff1010',
    arrow: [25.26, 0.92, 0.208], arrowSize: [20, 46, 25], arrowColor: '#4472c4', arrowEdge: '#2f528f',
    ct: [26.5, 0.117], ctText: 'Ct : ' + ctB, ctFont: 'bold 22px "Open Sans", sans-serif'
  }
});

makeChart('chartC', {
  threshold: thresholdC, thrColor: '#3c9a6c',
  amp: [ampC1, ampC2, ampC3], ampColor: '#3a3acd', ampWidth: 1.4,
  noise: [noiseC1, noiseC2, noiseC3, noiseC4, noiseC5, noiseC6, noiseC7, noiseC8, noiseC9, noiseC10, noiseC11,
          noiseC12, noiseC13, noiseC14, noiseC15, noiseC16, noiseC17, noiseC18, noiseC19, noiseC20, noiseC21, noiseC22],
  palette: paletteC,
  yMin: 0.000001, yTicks: yTicksC, yLabels: yLabelsC,
  padLeft: 14, padRight: 25, yWidth: 72, xHeight: 37, tickSize: 9, cyclePad: 4,
  titleFont: { size: 10 }, titlePad: { top: 9, bottom: 5 },
  notes: {
    frame: '#c0c0c0', threshold: thresholdC, thrFont: 'bold 12px "Liberation Serif", serif',
    name: [26.1, 1.47], nameFont: 'bold 14px "Open Sans", sans-serif', nameColor: '#111',
    arrow: [26.9, 0.79, 0.42], arrowSize: [4, 11, 6], arrowColor: '#111', arrowEdge: null,
    ct: [27.1, 0.14], ctText: 'Ct: ' + ctC, ctFont: 'bold 12px "Open Sans", sans-serif'
  }
});
</script>
</body>
</html>
